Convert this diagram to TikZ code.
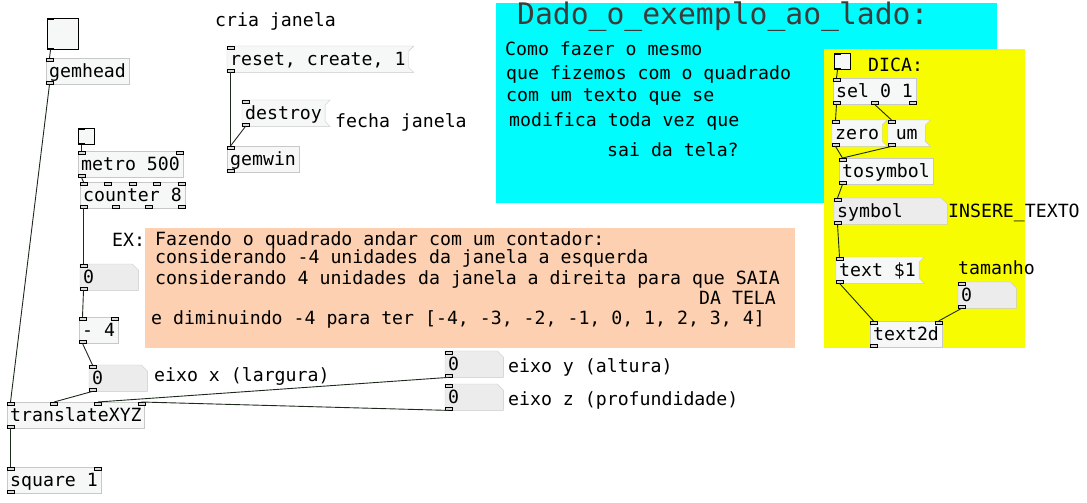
\documentclass[tikz,border=0pt]{standalone}
\usepackage{fontspec}
\setmonofont{DejaVu Sans Mono}
\usetikzlibrary{calc,backgrounds}

\definecolor{boxline}{HTML}{C8C8C8}
\definecolor{boxfill}{HTML}{F6F8F8}
\definecolor{atomfill}{HTML}{ECECEC}
\definecolor{wirecol}{HTML}{1C2A1C}
\definecolor{cyanbg}{HTML}{00FCFC}
\definecolor{yellowbg}{HTML}{F8FC00}
\definecolor{orangebg}{HTML}{FCD0B0}
\definecolor{titlegray}{HTML}{3C3C3C}

% inlets / outlets at fractions of the box width
\newcommand{\pdports}[3]{%
  \foreach \f in {#2} {\draw[port] ($(#1.north west)!\f!([xshift=-7pt]#1.north east)$) rectangle ++(7,3);}
  \foreach \f in {#3} {\draw[port] ($(#1.south west)!\f!([xshift=-7pt]#1.south east)$) rectangle ++(7,-3);}}
% message box with flag
\newcommand{\pdmsg}[1]{%
  \begin{scope}[on background layer]
    \draw[draw=boxline,fill=boxfill] (#1.north west) -- ($(#1.north east)+(5,0)$) -- ($(#1.north east)+(0,5)$)
      -- ($(#1.south east)+(0,-5)$) -- ($(#1.south east)+(5,0)$) -- (#1.south west) -- cycle;
  \end{scope}}
% number / symbol box with cut corner
\newcommand{\pdatom}[1]{%
  \begin{scope}[on background layer]
    \draw[draw=boxline,fill=atomfill] (#1.north west) -- ($(#1.north east)+(-6,0)$) -- ($(#1.north east)+(0,6)$)
      -- (#1.south east) -- (#1.south west) -- cycle;
  \end{scope}}
\newcommand{\pdwire}[4]{%
  \draw[wire] ($([xshift=3.5pt]#1.south west)!#2!([xshift=-3.5pt]#1.south east)$)
    -- ($([xshift=3.5pt]#3.north west)!#4!([xshift=-3.5pt]#3.north east)$);}

\begin{document}
\begin{tikzpicture}[x=1pt, y=-1pt,
  every node/.style={font=\ttfamily\fontsize{18.2}{20}\selectfont, inner sep=0pt},
  obj/.style={draw=boxline, fill=boxfill, anchor=north west, inner xsep=3pt,
    minimum height=26pt, text height=15pt, text depth=3pt},
  msg/.style={obj, draw=none, fill=none},
  atom/.style={obj, draw=none, fill=none, text width=#1, align=left},
  bng/.style={draw=black, fill=boxfill, anchor=north west, line width=1pt, minimum size=#1},
  cmt/.style={anchor=base west},
  port/.style={draw=black, fill=boxline!70, line width=0.6pt},
  wire/.style={draw=wirecol, line width=0.9pt}]
\useasboundingbox (0,0) rectangle (1087,503);

% coloured canvases
\begin{scope}[on background layer]
  \fill[cyanbg] (496,3) rectangle (997,203);
  \fill[yellowbg] (824,49) rectangle (1025,348);
  \fill[orangebg] (145,228) rectangle (795,348);
\end{scope}

% window
\node[cmt] (criacmt) at (215,27) {cria janela};
\node[msg] (reset) at (227,46) {reset, create, 1}; \pdmsg{reset}
\node[msg] (destroy) at (242,100) {destroy}; \pdmsg{destroy}
\node[cmt] (fechacmt) at (335,127) {fecha janela};
\node[obj] (gemwin) at (227,146) {gemwin};

% square chain
\node[bng=31pt] (bngA) at (47,18) {};
\node[obj] (gemhead) at (46,58) {gemhead};
\node[bng=16pt] (bngB) at (78,128) {};
\node[obj] (metro) at (78,151) {metro 500};
\node[obj] (counter) at (80,182) {counter 8};
\node[cmt] (excmt) at (112,246) {EX:};
\node[atom=52pt] (numA) at (80,264) {0}; \pdatom{numA}
\node[obj] (minus) at (79,317) {- 4};
\node[atom=52pt] (numX) at (89,365) {0}; \pdatom{numX}
\node[cmt] (xcmt) at (154,381) {eixo x (largura)};
\node[atom=52pt] (numY) at (445,351) {0}; \pdatom{numY}
\node[cmt] (ycmt) at (508,372) {eixo y (altura)};
\node[atom=52pt] (numZ) at (445,384) {0}; \pdatom{numZ}
\node[cmt] (zcmt) at (508,405) {eixo z (profundidade)};
\node[obj] (trans) at (7,402) {translateXYZ};
\node[obj] (square) at (7,467) {square 1};

% orange comment
\node[cmt] (exA) at (155,245) {Fazendo o quadrado andar com um contador:};
\node[cmt] (exB) at (155,263) {considerando -4 unidades da janela a esquerda};
\node[cmt] (exC) at (155,284) {considerando 4 unidades da janela a direita para que SAIA};
\node[cmt] (exD) at (699,304) {DA TELA};
\node[cmt] (exE) at (151,324) {e diminuindo -4 para ter [-4, -3, -2, -1, 0, 1, 2, 3, 4]};

% cyan comment
\node[cmt, text=titlegray, font=\ttfamily\fontsize{29.7}{32}\selectfont] (title) at (517,25) {Dado\_o\_exemplo\_ao\_lado:};
\node[cmt] (qA) at (505,56) {Como fazer o mesmo};
\node[cmt] (qB) at (506,79) {que fizemos com o quadrado};
\node[cmt] (qC) at (506,102) {com um texto que se};
\node[cmt] (qD) at (509,126) {modifica toda vez que};
\node[cmt] (qE) at (607,156) {sai da tela?};

% yellow hint
\node[bng=16pt] (bngC) at (834,53) {};
\node[cmt] (dicacmt) at (868,72) {DICA:};
\node[obj] (sel) at (833,78) {sel 0 1};
\node[msg] (zero) at (832,120) {zero}; \pdmsg{zero}
\node[msg, minimum width=37pt] (um) at (888,120) {um}; \pdmsg{um}
\node[obj] (tosym) at (839,158) {tosymbol};
\node[atom=107pt] (symbol) at (834,198) {symbol}; \pdatom{symbol}
\node[cmt] (inscmt) at (948,217) {INSERE\_TEXTO};
\node[msg] (textmsg) at (836,257) {text \$1}; \pdmsg{textmsg}
\node[cmt] (tamcmt) at (958,274) {tamanho};
\node[atom=52pt] (numT) at (958,282) {0}; \pdatom{numT}
\node[obj] (text2d) at (870,321) {text2d};

% bang marks
\foreach \b in {bngA,bngB,bngC} {
  \fill[black] (\b.north west) rectangle ++(7,2);
  \fill[black] (\b.south west) rectangle ++(7,-2);
}

% ports
\pdports{gemhead}{0}{0}
\pdports{metro}{0,1}{0}
\pdports{counter}{0,0.25,0.5,0.75,1}{0,0.333,0.667,1}
\pdports{minus}{0,1}{0}
\pdports{trans}{0,0.333,0.667,1}{0}
\pdports{square}{0,1}{0}
\pdports{gemwin}{0}{0}
\pdports{sel}{0}{0,0.5,1}
\pdports{tosym}{0}{0}
\pdports{text2d}{0,1}{0}
\foreach \m in {reset,destroy,zero,um,textmsg,numA,numX,numY,numZ,symbol,numT} {\pdports{\m}{0}{0}}

% connections
\pdwire{bngA}{0}{gemhead}{0}
\pdwire{gemhead}{0}{trans}{0}
\pdwire{bngB}{0}{metro}{0}
\pdwire{metro}{0}{counter}{0}
\pdwire{counter}{0}{numA}{0}
\pdwire{numA}{0}{minus}{0}
\pdwire{minus}{0}{numX}{0}
\pdwire{numX}{0}{trans}{0.333}
\pdwire{numY}{0}{trans}{0.667}
\pdwire{numZ}{0}{trans}{1}
\pdwire{trans}{0}{square}{0}
\pdwire{reset}{0}{gemwin}{0}
\pdwire{destroy}{0}{gemwin}{0}
\pdwire{bngC}{0}{sel}{0}
\pdwire{sel}{0}{zero}{0}
\pdwire{sel}{0.5}{um}{0}
\pdwire{zero}{0}{tosym}{0}
\pdwire{um}{0}{tosym}{0}
\pdwire{tosym}{0}{symbol}{0}
\pdwire{symbol}{0}{textmsg}{0}
\pdwire{textmsg}{0}{text2d}{0}
\pdwire{numT}{0}{text2d}{1}
\end{tikzpicture}
\end{document}
